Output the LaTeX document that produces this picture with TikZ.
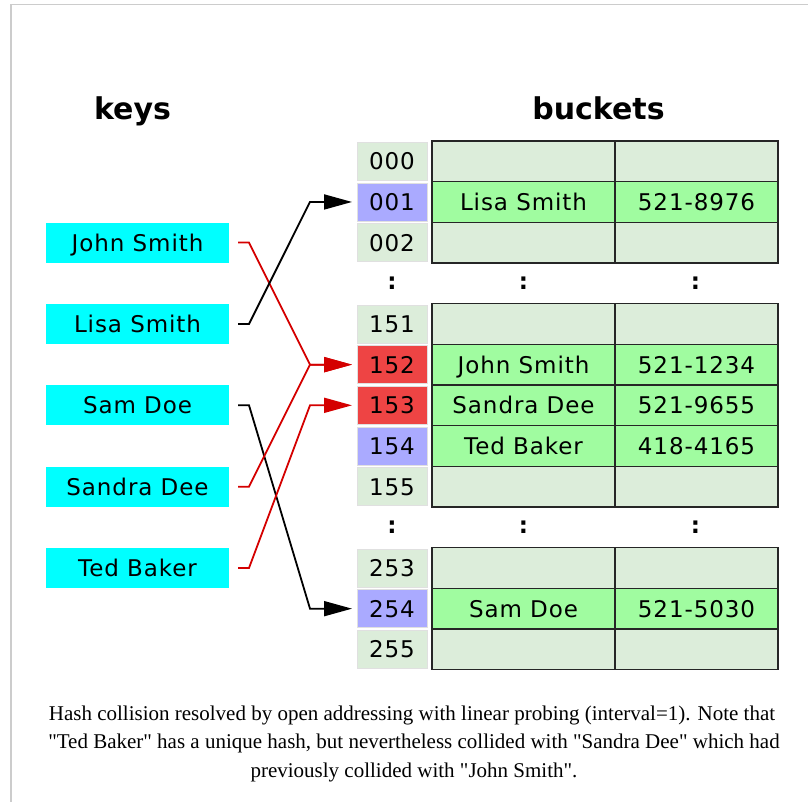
\documentclass[tikz,border=0pt]{standalone}
\usepackage{fontspec}
\setmainfont{Liberation Serif}
\newfontfamily\dv[LetterSpace=4]{DejaVu Sans}
\newfontfamily\dvt{DejaVu Sans}
\usetikzlibrary{arrows.meta}
\definecolor{keyc}{HTML}{00FFFF}
\definecolor{emptyc}{HTML}{DCEDDA}
\definecolor{fullc}{HTML}{A0FCA0}
\definecolor{hitc}{HTML}{AAAAFF}
\definecolor{collc}{HTML}{EE4444}
\definecolor{redline}{HTML}{D40000}
\definecolor{framec}{HTML}{CCCCCC}
\newcommand\qd{\textquotedbl}
\begin{document}
\begin{tikzpicture}[x=1pt,y=-1pt,
  lab/.style={font=\dv\fontsize{23}{27}\selectfont, text=black, text height=17pt, text depth=0pt, inner sep=0pt, outer sep=0pt},
  keybox/.style={lab, fill=keyc, minimum width=183pt, minimum height=40pt},
  idx/.style={lab, minimum width=70pt, minimum height=38pt, draw=white!88!black, line width=0.6pt},
  cell/.style={lab, draw=black!85, line width=1.6pt, minimum height=40.67pt},
  namecell/.style={cell, minimum width=183pt},
  numcell/.style={cell, minimum width=163pt},
  dots/.style={font=\dvt\bfseries\fontsize{23}{27}\selectfont, inner sep=0pt},
  title/.style={font=\dvt\bfseries\fontsize{30}{34}\selectfont, anchor=base, inner sep=0pt},
  caption/.style={font=\fontsize{21}{25}\selectfont, anchor=base, inner sep=0pt},
  link/.style={line width=1.8pt, -{Triangle[length=28pt,width=15pt]}}
]
\useasboundingbox (0,0) rectangle (808,802);
\draw[framec, line width=1.5pt] (11,802) -- (11,4.5) -- (808,4.5);

\node[title] (tk) at (132.5,120) {keys};
\node[title] (tb) at (598.5,120) {buckets};

% keys
\node[keybox] (k1) at (137.5,242.6) {John Smith};
\node[keybox] (k2) at (137.5,324.0) {Lisa Smith};
\node[keybox] (k3) at (137.5,405.3) {Sam Doe};
\node[keybox] (k4) at (137.5,486.7) {Sandra Dee};
\node[keybox] (k5) at (137.5,568.0) {Ted Baker};

% index column and buckets
\foreach \i/\t/\f/\nm/\ph/\g in {
  0/000/emptyc/{}/{}/emptyc,
  1/001/hitc/Lisa Smith/521-8976/fullc,
  2/002/emptyc/{}/{}/emptyc,
  4/151/emptyc/{}/{}/emptyc,
  5/152/collc/John Smith/521-1234/fullc,
  6/153/collc/Sandra Dee/521-9655/fullc,
  7/154/hitc/Ted Baker/418-4165/fullc,
  8/155/emptyc/{}/{}/emptyc,
  10/253/emptyc/{}/{}/emptyc,
  11/254/hitc/Sam Doe/521-5030/fullc,
  12/255/emptyc/{}/{}/emptyc}{
  \pgfmathsetmacro\yy{161.3+\i*40.67}
  \node[idx, fill=\f] (i\i) at (392,\yy) {\t};
  \node[namecell, fill=\g] (n\i) at (523.5,\yy) {\nm};
  \node[numcell, fill=\g] (p\i) at (696.5,\yy) {\ph};
}

% ellipsis rows
\foreach \i in {3,9}{
  \pgfmathsetmacro\yy{161.3+\i*40.67}
  \node[dots] (di\i) at (392,\yy) {:};
  \node[dots] (dn\i) at (523.5,\yy) {:};
  \node[dots] (dp\i) at (695.5,\yy) {:};
}

% connectors
\draw[link, redline] ([xshift=9pt]k1.east) -- ++(11,0) -- ([xshift=-47pt]i5.west) -- ([xshift=-5pt]i5.west);
\draw[link, black] ([xshift=9pt]k2.east) -- ++(11,0) -- ([xshift=-47pt]i1.west) -- ([xshift=-5pt]i1.west);
\draw[link, black] ([xshift=9pt]k3.east) -- ++(11,0) -- ([xshift=-47pt]i11.west) -- ([xshift=-5pt]i11.west);
\draw[link, redline] ([xshift=9pt]k4.east) -- ++(11,0) -- ([xshift=-47pt]i5.west) -- ([xshift=-5pt]i5.west);
\draw[link, redline] ([xshift=9pt]k5.east) -- ++(11,0) -- ([xshift=-47pt]i6.west) -- ([xshift=-5pt]i6.west);

% caption
\node[caption] (c1) at (412,720) {Hash collision resolved by open addressing with linear probing (interval=1). Note that};
\node[caption] (c2) at (414,748.5) {\qd Ted Baker\qd{} has a unique hash, but nevertheless collided with \qd Sandra Dee\qd{} which had};
\node[caption] (c3) at (414,777) {previously collided with \qd John Smith\qd.};
\end{tikzpicture}
\end{document}
